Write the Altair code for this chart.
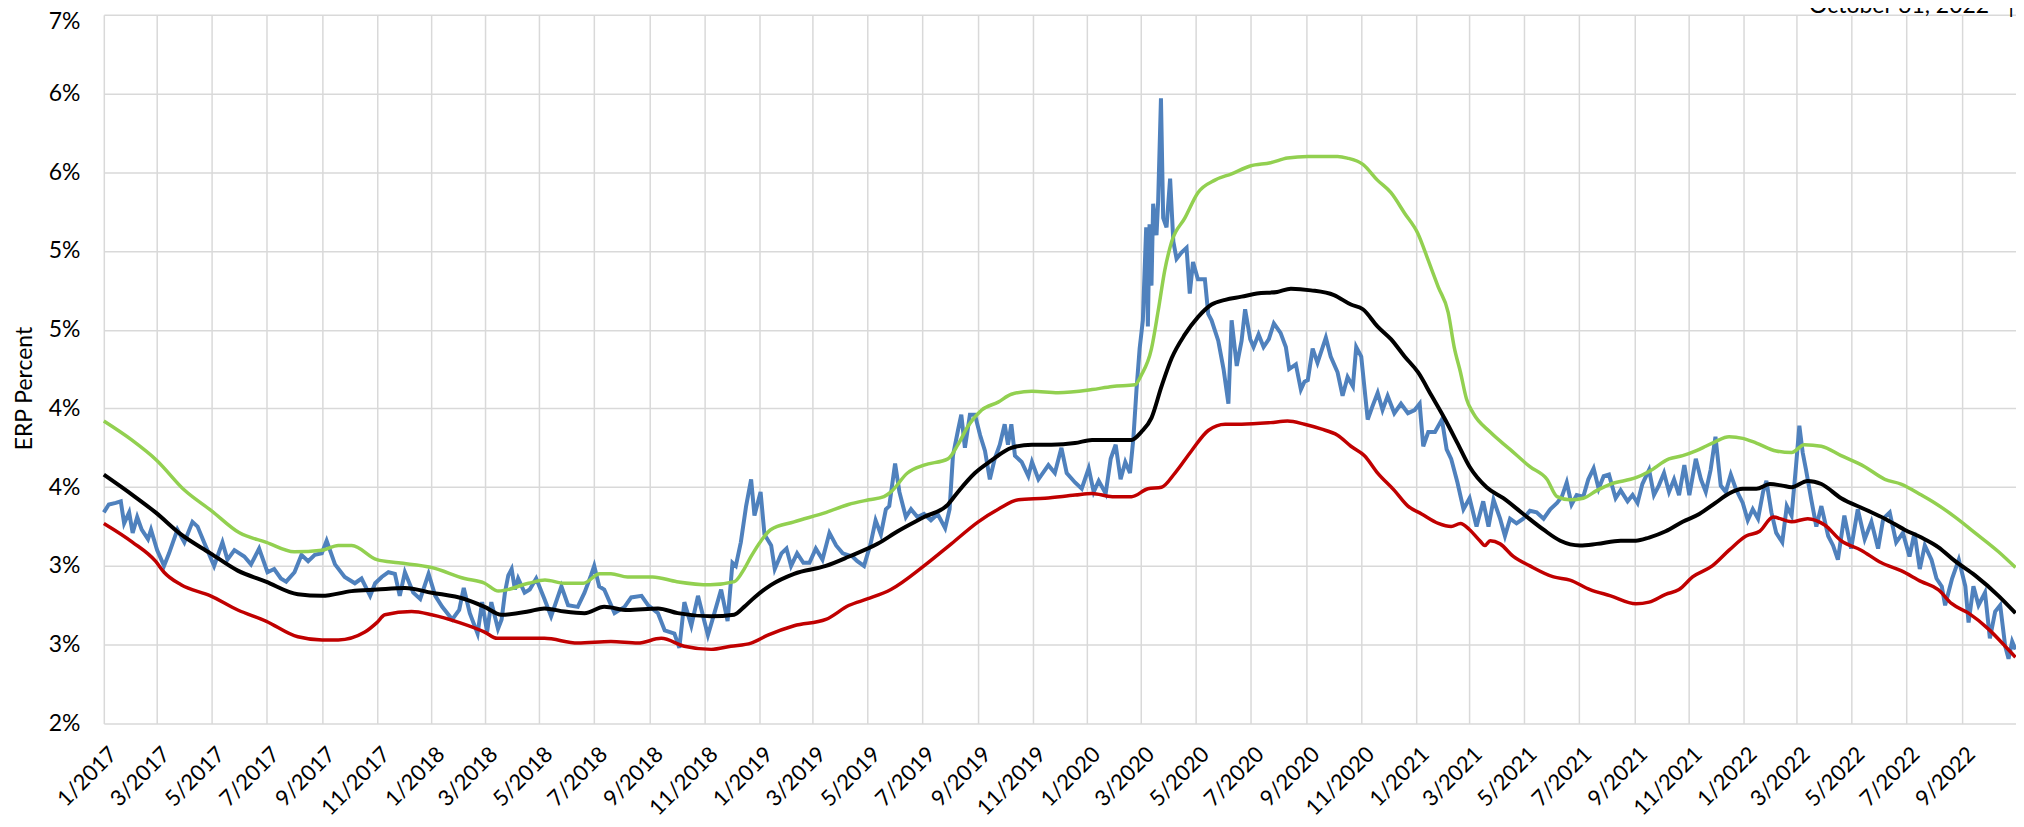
import math
import altair as alt
import pandas as pd

# ---- values (x = months since Jan 2017, y = ERP %) ----
GREEN = [(0, 3.92), (1.0, 3.80), (2.0, 3.67), (3.0, 3.48), (4.0, 3.35), (5.0, 3.21), (6.0, 3.15),
         (7.0, 3.09), (8.0, 3.10), (8.6, 3.13), (9.1, 3.13), (10.0, 3.04), (10.8, 3.02), (12.0, 2.99),
         (13.2, 2.92), (14.0, 2.89), (14.5, 2.84), (15.6, 2.89), (16.2, 2.91), (16.9, 2.89), (17.6, 2.89),
         (18.2, 2.95), (18.6, 2.95), (19.2, 2.93), (20.1, 2.93), (21.0, 2.90), (22.2, 2.88), (23.1, 2.90),
         (23.45, 2.98), (23.7, 3.06), (24.06, 3.16), (24.4, 3.23), (25.27, 3.28), (26.5, 3.34), (27.3, 3.39),
         (28.06, 3.42), (28.6, 3.44), (28.85, 3.47), (29.46, 3.59), (30.07, 3.64), (30.93, 3.68), (31.29, 3.77),
         (31.66, 3.89), (32.15, 3.99), (32.76, 4.04), (33.24, 4.09), (33.98, 4.11), (34.95, 4.10), (36.17, 4.12),
         (36.9, 4.14), (37.76, 4.15), (38.0, 4.21), (38.37, 4.38), (38.61, 4.62), (38.85, 4.88), (39.1, 5.06),
         (39.59, 5.21), (40.07, 5.37), (40.68, 5.45), (41.29, 5.49), (41.98, 5.54), (42.71, 5.56), (43.32, 5.59),
         (44.05, 5.60), (45.15, 5.60), (45.5, 5.59), (46.06, 5.55), (46.6, 5.45), (47.1, 5.37), (47.59, 5.24),
         (48.07, 5.11), (48.44, 4.94), (48.8, 4.77), (49.17, 4.61), (49.41, 4.39), (49.66, 4.23), (49.9, 4.06),
         (50.15, 3.97), (50.76, 3.85), (51.49, 3.74), (52.22, 3.63), (52.83, 3.55), (53.2, 3.44), (53.68, 3.42),
         (54.17, 3.43), (54.66, 3.48), (55.15, 3.52), (56.06, 3.56), (56.55, 3.60), (57.28, 3.68), (57.77, 3.70),
         (58.25, 3.73), (58.62, 3.76), (58.98, 3.79), (59.47, 3.82), (59.96, 3.81), (60.45, 3.78), (61.18, 3.73),
         (61.79, 3.72), (62.27, 3.77), (62.88, 3.76), (63.61, 3.70), (64.47, 3.63), (65.2, 3.55), (65.8, 3.52),
         (66.54, 3.45), (67.02, 3.40), (67.75, 3.31), (68.48, 3.21), (69.34, 3.09), (69.95, 2.99)]

BLACK = [(0, 3.58), (1.04, 3.45), (1.95, 3.34), (2.87, 3.20), (3.96, 3.08), (4.94, 2.97), (5.98, 2.90),
         (7.13, 2.82), (8.0, 2.81), (9.09, 2.84), (10.0, 2.85), (11.04, 2.86), (12.0, 2.83), (13.2, 2.79),
         (14.0, 2.74), (14.6, 2.69), (15.58, 2.71), (16.18, 2.73), (16.9, 2.71), (17.64, 2.70), (18.36, 2.74),
         (19.2, 2.72), (20.3, 2.73), (21.03, 2.70), (22.24, 2.68), (23.09, 2.69), (23.45, 2.74), (23.82, 2.80),
         (24.42, 2.88), (25.27, 2.95), (26.48, 3.00), (27.33, 3.06), (28.37, 3.14), (29.1, 3.22), (30.07, 3.31),
         (30.93, 3.39), (31.29, 3.47), (31.9, 3.59), (32.51, 3.67), (33.24, 3.75), (33.98, 3.77), (34.7, 3.77),
         (35.56, 3.78), (36.17, 3.80), (37.15, 3.80), (37.63, 3.80), (38.0, 3.85), (38.37, 3.94), (38.73, 4.14),
         (39.1, 4.32), (39.59, 4.47), (40.07, 4.58), (40.56, 4.66), (41.05, 4.69), (41.66, 4.71), (42.22, 4.73),
         (42.95, 4.74), (43.44, 4.76), (44.17, 4.75), (45.02, 4.72), (45.63, 4.66), (46.06, 4.63), (46.61, 4.52),
         (47.1, 4.44), (47.59, 4.33), (48.07, 4.23), (48.56, 4.08), (49.05, 3.93), (49.54, 3.78), (50.02, 3.63),
         (50.63, 3.50), (51.24, 3.43), (51.98, 3.33), (52.71, 3.23), (53.32, 3.16), (54.05, 3.13), (54.66, 3.14),
         (55.51, 3.16), (56.06, 3.16), (56.55, 3.18), (57.16, 3.22), (57.77, 3.28), (58.38, 3.33), (58.98, 3.40),
         (59.47, 3.46), (59.96, 3.49), (60.45, 3.49), (60.93, 3.52), (61.42, 3.51), (61.79, 3.50), (62.39, 3.54),
         (62.88, 3.52), (63.61, 3.43), (64.47, 3.36), (65.2, 3.30), (65.93, 3.23), (66.54, 3.18), (67.14, 3.12),
         (67.75, 3.03), (68.48, 2.94), (69.34, 2.81), (69.95, 2.70)]

RED = [(0, 3.27), (1.04, 3.15), (1.95, 3.03), (2.26, 2.96), (2.87, 2.88), (3.96, 2.81), (4.94, 2.72),
       (5.98, 2.65), (7.13, 2.55), (8.0, 2.53), (8.6, 2.53), (9.57, 2.58), (10.0, 2.64), (10.3, 2.69),
       (11.28, 2.71), (12.0, 2.69), (13.0, 2.64), (14.0, 2.58), (14.45, 2.54), (15.58, 2.54), (16.18, 2.54),
       (17.39, 2.51), (18.6, 2.52), (19.57, 2.51), (20.42, 2.54), (21.27, 2.49), (22.24, 2.47), (22.97, 2.49),
       (23.7, 2.51), (24.3, 2.56), (25.27, 2.62), (26.48, 2.66), (27.33, 2.75), (28.0, 2.79), (28.85, 2.85),
       (30.07, 3.00), (31.05, 3.14), (32.02, 3.28), (32.76, 3.36), (33.49, 3.42), (34.46, 3.43), (35.56, 3.45),
       (36.17, 3.46), (36.9, 3.44), (37.63, 3.44), (38.24, 3.49), (38.73, 3.50), (39.22, 3.59), (39.83, 3.73),
       (40.44, 3.86), (41.05, 3.90), (41.66, 3.90), (42.71, 3.91), (43.32, 3.92), (43.93, 3.90), (44.54, 3.87),
       (45.15, 3.83), (45.63, 3.76), (46.12, 3.70), (46.61, 3.59), (47.22, 3.48), (47.71, 3.38), (48.2, 3.33),
       (48.8, 3.27), (49.29, 3.25), (49.66, 3.27), (50.02, 3.23), (50.39, 3.16), (50.57, 3.13), (50.76, 3.16),
       (51.12, 3.14), (51.61, 3.06), (52.22, 3.00), (53.07, 2.93), (53.68, 2.91), (54.41, 2.85), (55.15, 2.81),
       (56.06, 2.76), (56.55, 2.77), (57.16, 2.82), (57.64, 2.85), (58.13, 2.93), (58.86, 3.00), (59.47, 3.10),
       (60.08, 3.19), (60.57, 3.22), (61.06, 3.31), (61.79, 3.28), (62.39, 3.30), (63.0, 3.26), (63.61, 3.16),
       (64.34, 3.10), (65.07, 3.02), (65.8, 2.97), (66.54, 2.90), (67.14, 2.85), (67.63, 2.76), (68.24, 2.70),
       (68.97, 2.60), (69.58, 2.49), (69.95, 2.42)]

BLUE_2017 = [(0.0, 3.34), (0.18, 3.39), (0.43, 3.40), (0.61, 3.41), (0.73, 3.27), (0.91, 3.34), (1.04, 3.21),
             (1.22, 3.31), (1.40, 3.23), (1.65, 3.17), (1.77, 3.23), (2.01, 3.10), (2.26, 3.00), (2.44, 3.08),
             (2.74, 3.23), (2.99, 3.15), (3.29, 3.28), (3.48, 3.25), (3.72, 3.15), (4.09, 3.00), (4.39, 3.15),
             (4.57, 3.04), (4.82, 3.10), (5.18, 3.06), (5.43, 3.01), (5.73, 3.11), (6.04, 2.96), (6.28, 2.98),
             (6.52, 2.92), (6.71, 2.90), (7.01, 2.96), (7.26, 3.07), (7.50, 3.03), (7.74, 3.07), (7.99, 3.08),
             (8.17, 3.16), (8.48, 3.01), (8.84, 2.93), (9.21, 2.89), (9.45, 2.92), (9.76, 2.81), (9.94, 2.89),
             (10.18, 2.93), (10.43, 2.96), (10.67, 2.95), (10.85, 2.81), (11.04, 2.96), (11.34, 2.83),
             (11.59, 2.79), (11.89, 2.95)]
BLUE_2018 = [(12.13, 2.81), (12.38, 2.74), (12.74, 2.66), (12.99, 2.72), (13.17, 2.86), (13.41, 2.70),
             (13.72, 2.57), (13.90, 2.77), (14.09, 2.58), (14.24, 2.77), (14.48, 2.60), (14.61, 2.66),
             (14.73, 2.83), (14.85, 2.94), (14.97, 2.98), (15.09, 2.85), (15.21, 2.92), (15.45, 2.83),
             (15.64, 2.85), (15.88, 2.92), (16.18, 2.79), (16.42, 2.68), (16.79, 2.87), (17.03, 2.75),
             (17.39, 2.74), (17.64, 2.83), (17.88, 2.94), (18.0, 3.00), (18.18, 2.87), (18.36, 2.85),
             (18.73, 2.70), (19.09, 2.74), (19.33, 2.80), (19.70, 2.81), (19.94, 2.75), (20.30, 2.70),
             (20.55, 2.59), (20.91, 2.57), (21.09, 2.48), (21.27, 2.77), (21.52, 2.62), (21.76, 2.81),
             (22.0, 2.64), (22.12, 2.56), (22.36, 2.70), (22.61, 2.85), (22.85, 2.65), (23.03, 3.02),
             (23.15, 3.00), (23.33, 3.15), (23.52, 3.38), (23.70, 3.55), (23.82, 3.32)]
BLUE_2019 = [(24.04, 3.47), (24.18, 3.20), (24.42, 3.13), (24.55, 2.98), (24.79, 3.08), (24.97, 3.11),
             (25.15, 3.00), (25.39, 3.08), (25.64, 3.02), (25.88, 3.02), (26.12, 3.11), (26.36, 3.04),
             (26.61, 3.21), (26.85, 3.13), (27.09, 3.08), (27.45, 3.06), (27.63, 3.03), (27.88, 3.00),
             (28.12, 3.14), (28.30, 3.29), (28.49, 3.20), (28.67, 3.36), (28.79, 3.38), (29.0, 3.65),
             (29.16, 3.47), (29.40, 3.31), (29.59, 3.36), (29.83, 3.31), (30.07, 3.33), (30.32, 3.29),
             (30.56, 3.33), (30.83, 3.24), (30.99, 3.36), (31.11, 3.70), (31.29, 3.86), (31.41, 3.96),
             (31.54, 3.75), (31.72, 3.96), (31.90, 3.96), (32.09, 3.83), (32.27, 3.73), (32.45, 3.55),
             (32.63, 3.68), (32.82, 3.77), (33.0, 3.90), (33.12, 3.77), (33.24, 3.90), (33.37, 3.70),
             (33.61, 3.66), (33.85, 3.57), (33.98, 3.66), (34.22, 3.55), (34.59, 3.64), (34.83, 3.59),
             (35.07, 3.75), (35.26, 3.59), (35.56, 3.53), (35.80, 3.49)]
BLUE_2020 = [(36.05, 3.62), (36.23, 3.47), (36.41, 3.54), (36.66, 3.46), (36.84, 3.68), (37.02, 3.77),
             (37.21, 3.55), (37.39, 3.66), (37.57, 3.59), (37.70, 3.81), (37.82, 4.12), (37.94, 4.38),
             (38.06, 4.56), (38.12, 4.86), (38.18, 5.15), (38.24, 4.52), (38.30, 5.17), (38.37, 4.78),
             (38.43, 5.30), (38.55, 5.10), (38.61, 5.32), (38.71, 5.97), (38.79, 5.21), (38.91, 5.15),
             (39.04, 5.46), (39.16, 5.06), (39.28, 4.95), (39.46, 4.99), (39.65, 5.02), (39.77, 4.73),
             (39.89, 4.93), (40.07, 4.82), (40.32, 4.82), (40.44, 4.60), (40.56, 4.56), (40.80, 4.43),
             (40.99, 4.25), (41.17, 4.03), (41.29, 4.56), (41.48, 4.27), (41.66, 4.43), (41.79, 4.63),
             (41.98, 4.44), (42.10, 4.39), (42.28, 4.47), (42.46, 4.39), (42.65, 4.44), (42.83, 4.54),
             (43.07, 4.48), (43.26, 4.39), (43.38, 4.25), (43.62, 4.28), (43.80, 4.12), (43.93, 4.17),
             (44.05, 4.18), (44.23, 4.38), (44.41, 4.29), (44.72, 4.45), (44.90, 4.33), (45.15, 4.23),
             (45.33, 4.08), (45.51, 4.20), (45.70, 4.14), (45.82, 4.39), (46.0, 4.33), (46.24, 3.93),
             (46.43, 4.02), (46.61, 4.10), (46.79, 3.99), (46.98, 4.08), (47.22, 3.97), (47.46, 4.03),
             (47.71, 3.97), (47.95, 3.99)]
BLUE_2021 = [(48.13, 4.03), (48.26, 3.76), (48.44, 3.85), (48.68, 3.85), (48.93, 3.93), (49.11, 3.74),
             (49.29, 3.68), (49.54, 3.53), (49.78, 3.36), (50.02, 3.43), (50.27, 3.25), (50.51, 3.41),
             (50.70, 3.25), (50.88, 3.42), (51.12, 3.30), (51.30, 3.19), (51.49, 3.30), (51.73, 3.27),
             (51.98, 3.30), (52.22, 3.35), (52.46, 3.34), (52.71, 3.30), (52.95, 3.36), (53.20, 3.40),
             (53.38, 3.44), (53.56, 3.53), (53.74, 3.39), (53.93, 3.45), (54.17, 3.44), (54.35, 3.55),
             (54.54, 3.62), (54.72, 3.49), (54.90, 3.57), (55.09, 3.58), (55.33, 3.43), (55.51, 3.48),
             (55.76, 3.41), (55.94, 3.45), (56.12, 3.40), (56.30, 3.52), (56.55, 3.61), (56.73, 3.45),
             (56.91, 3.51), (57.10, 3.59), (57.28, 3.47), (57.46, 3.55), (57.64, 3.45), (57.83, 3.64),
             (58.01, 3.45), (58.25, 3.68), (58.44, 3.55), (58.62, 3.47), (58.80, 3.61), (58.98, 3.82),
             (59.17, 3.51), (59.35, 3.47), (59.53, 3.58), (59.71, 3.49)]
BLUE_2022 = [(59.96, 3.40), (60.14, 3.29), (60.32, 3.36), (60.51, 3.30), (60.69, 3.47), (60.81, 3.54),
             (60.99, 3.34), (61.18, 3.21), (61.42, 3.15), (61.60, 3.38), (61.79, 3.32), (61.97, 3.64),
             (62.09, 3.89), (62.21, 3.72), (62.33, 3.61), (62.52, 3.42), (62.70, 3.25), (62.88, 3.38),
             (63.13, 3.19), (63.31, 3.13), (63.49, 3.04), (63.73, 3.32), (63.98, 3.11), (64.22, 3.36),
             (64.47, 3.17), (64.71, 3.28), (64.95, 3.11), (65.14, 3.30), (65.38, 3.34), (65.62, 3.15),
             (65.87, 3.21), (66.11, 3.06), (66.29, 3.21), (66.48, 2.98), (66.66, 3.13), (66.90, 3.04),
             (67.08, 2.92), (67.27, 2.87), (67.39, 2.75), (67.64, 2.92), (67.88, 3.04), (68.12, 2.87),
             (68.24, 2.64), (68.42, 2.87), (68.61, 2.75), (68.85, 2.83), (69.03, 2.54), (69.22, 2.71),
             (69.40, 2.75), (69.58, 2.49), (69.70, 2.41), (69.83, 2.52), (69.95, 2.47)]

Y_TICKS = [2.0, 2.5, 3.0, 3.5, 4.0, 4.5, 5.0, 5.5, 6.0, 6.5]
X_TICK_MONTHS = list(range(0, 70, 2))
DATE_TEXT = "October 31, 2022"


def month_to_ms(m):
    mi = int(math.floor(m))
    frac = m - mi
    start = pd.Timestamp(year=2017 + mi // 12, month=mi % 12 + 1, day=1)
    t = start + pd.Timedelta(days=frac * start.days_in_month)
    return int(t.value // 10**6)


def frame(pairs):
    return pd.DataFrame({"t": [month_to_ms(m) for m, _ in pairs], "v": [v for _, v in pairs]})


FONT = "Lato"
D0 = month_to_ms(0)
D1 = int(pd.Timestamp("2022-10-31").value // 10**6)

x_enc = alt.X(
    "t:T",
    scale=alt.Scale(type="utc", domain=[D0, D1]),
    axis=alt.Axis(
        values=[month_to_ms(k) for k in X_TICK_MONTHS],
        labelExpr="utcFormat(datum.value, '%-m/%Y')",
        labelAngle=315, labelAlign="right", labelBaseline="top",
        labelPadding=20, labelOffset=2,
        labelFont=FONT, labelFontSize=22, labelColor="#000000",
        labelOverlap=False, labelFlush=False, labelBound=False,
        grid=True, gridColor="#D9D9D9", gridWidth=1.5,
        ticks=False, tickSize=0, domain=False, title=None,
    ),
)
y_enc = alt.Y(
    "v:Q",
    scale=alt.Scale(domain=[2.0, 6.5], nice=False, zero=False),
    axis=alt.Axis(
        values=Y_TICKS,
        labelExpr="round(datum.value) + '%'",
        labelOffset={"condition": {"test": "datum.value >= 6.5", "value": 7}, "value": 0},
        labelPadding=24, labelFont=FONT, labelFontSize=23, labelColor="#000000",
        grid=True, gridColor="#D9D9D9", gridWidth=1.5,
        ticks=False, tickSize=0, domain=False,
        title="ERP Percent", titleFont=FONT, titleFontSize=23, titleFontWeight="normal",
        titleColor="#000000", titleAngle=270, titleX=-79, titleY=374,
        titleAlign="center", titleBaseline="middle",
    ),
)

blue_df = pd.concat([frame(s) for s in [BLUE_2017, BLUE_2018, BLUE_2019, BLUE_2020, BLUE_2021, BLUE_2022]],
                    ignore_index=True)

blue = alt.Chart(blue_df).mark_line(color="#4F81BD", strokeWidth=4).encode(x=x_enc, y=y_enc)
black = alt.Chart(frame(BLACK)).mark_line(color="#000000", strokeWidth=4, interpolate="monotone").encode(x=x_enc, y=y_enc)
green = alt.Chart(frame(GREEN)).mark_line(color="#92D050", strokeWidth=3.5, interpolate="monotone").encode(x=x_enc, y=y_enc)
red = alt.Chart(frame(RED)).mark_line(color="#C00000", strokeWidth=3.5, interpolate="monotone").encode(x=x_enc, y=y_enc)

date_txt = alt.Chart(pd.DataFrame({"s": [DATE_TEXT]})).mark_text(
    align="right", baseline="alphabetic", font=FONT, fontSize=23, color="#000000"
).encode(x=alt.value(1889), y=alt.value(-2), text="s:N")
bar_txt = alt.Chart(pd.DataFrame({"s": ["|"]})).mark_text(
    align="center", baseline="alphabetic", font=FONT, fontSize=23, color="#000000"
).encode(x=alt.value(1911), y=alt.value(-2), text="s:N")

chart = alt.layer(blue, black, green, red, date_txt, bar_txt).properties(
    width=1916, height=710,
    padding={"left": 96, "top": 6, "right": 0, "bottom": 95},
    autosize=alt.AutoSizeParams(type="none"),
).configure_view(stroke=None)

chart.save("out.html", embed_options={"renderer": "svg", "actions": False})
